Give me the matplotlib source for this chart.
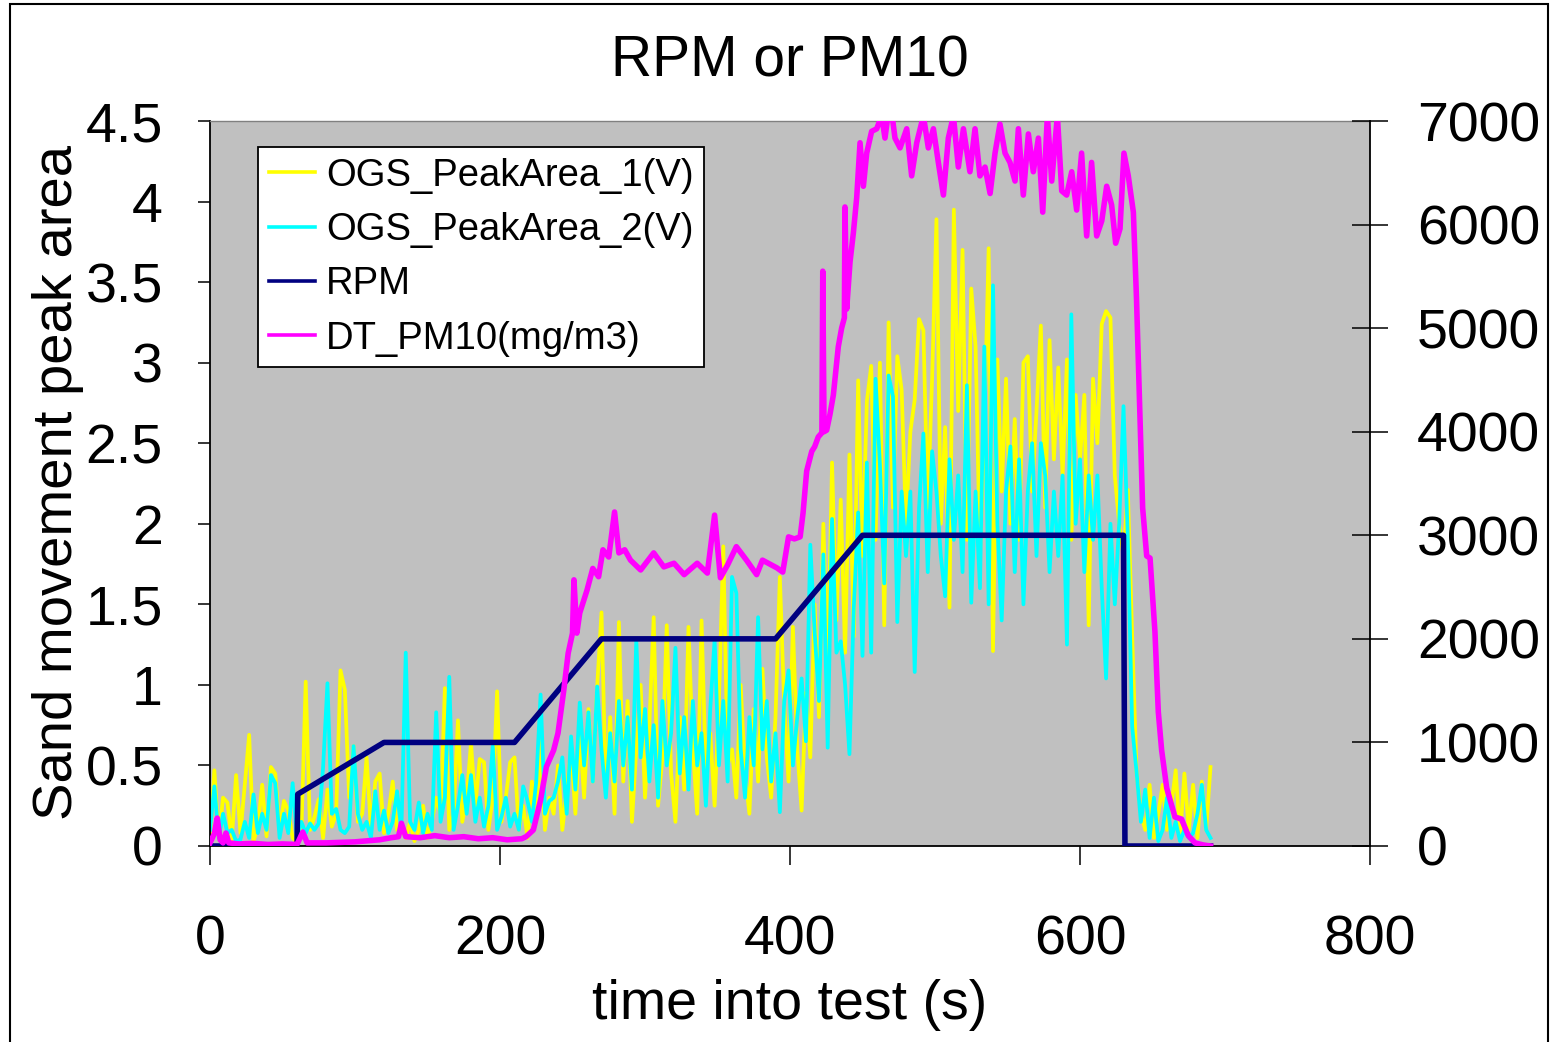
import numpy as np
import matplotlib
matplotlib.use("Agg")
import matplotlib.pyplot as plt
from matplotlib.patches import Rectangle
from matplotlib.ticker import FormatStrFormatter

plt.rcParams['font.family'] = ['Liberation Sans', 'DejaVu Sans']

# OGS peak areas, every 3 s
t_ogs = np.arange(0, 691, 3)
ogs1 = [0.05, 0.47, 0.05, 0.30, 0.27, 0.04, 0.44, 0.08, 0.38, 0.69,
        0.03, 0.12, 0.38, 0.06, 0.49, 0.45, 0.10, 0.28, 0.22, 0.05,
        0.02, 0.08, 1.02, 0.10, 0.18, 0.29, 0.05, 0.35, 0.12, 0.20,
        1.09, 0.97, 0.30, 0.62, 0.15, 0.20, 0.55, 0.10, 0.40, 0.45,
        0.08, 0.20, 0.40, 0.10, 0.12, 0.05, 0.15, 0.03, 0.10, 0.25,
        0.05, 0.15, 0.30, 0.20, 0.98, 0.10, 0.20, 0.78, 0.15, 0.30,
        0.64, 0.25, 0.54, 0.52, 0.10, 0.30, 0.96, 0.15, 0.30, 0.52,
        0.55, 0.10, 0.25, 0.05, 0.40, 0.15, 0.66, 0.10, 0.30, 0.20,
        0.50, 0.10, 0.35, 0.60, 0.20, 0.70, 0.30, 0.85, 0.40, 0.99,
        1.45, 0.35, 0.80, 0.20, 1.39, 0.40, 0.90, 0.15, 0.60, 1.00,
        0.30, 0.75, 1.42, 0.25, 0.55, 1.37, 0.45, 0.15, 0.80, 0.35,
        1.36, 0.60, 0.20, 1.40, 0.45, 0.70, 0.25, 0.90, 1.86, 0.50,
        0.60, 0.30, 1.00, 0.45, 0.20, 0.85, 0.40, 1.10, 0.55, 0.30,
        0.80, 1.67, 0.88, 0.40, 1.36, 0.60, 0.22, 0.95, 0.55, 1.50,
        0.80, 2.00, 1.10, 2.38, 1.40, 2.15, 1.20, 2.43, 1.30, 2.89,
        1.80, 2.76, 2.98, 1.90, 3.00, 1.37, 3.25, 2.10, 3.04, 2.83,
        2.00, 2.57, 2.77, 3.27, 3.20, 2.10, 2.90, 3.89, 2.00, 2.60,
        1.48, 3.95, 2.70, 3.70, 1.90, 3.46, 3.10, 1.80, 2.60, 3.71,
        1.21, 3.02, 2.20, 2.90, 2.00, 2.65, 1.90, 3.00, 3.04, 2.20,
        2.70, 3.23, 2.10, 3.14, 2.40, 2.97, 2.30, 3.02, 1.90, 2.80,
        2.40, 2.80, 1.37, 2.90, 2.50, 3.24, 3.32, 3.28, 2.30, 2.00,
        1.80, 2.21, 1.30, 0.46, 0.20, 0.10, 0.38, 0.05, 0.20, 0.38,
        0.10, 0.25, 0.47, 0.05, 0.45, 0.10, 0.38, 0.05, 0.40, 0.10,
        0.49]
ogs2 = [0.10, 0.37, 0.05, 0.20, 0.08, 0.10, 0.03, 0.04, 0.15, 0.05,
        0.32, 0.08, 0.20, 0.10, 0.44, 0.39, 0.05, 0.20, 0.08, 0.39,
        0.05, 0.15, 0.08, 0.14, 0.10, 0.14, 0.49, 1.01, 0.20, 0.23,
        0.10, 0.08, 0.12, 0.62, 0.20, 0.10, 0.15, 0.05, 0.34, 0.10,
        0.22, 0.08, 0.15, 0.34, 0.10, 1.20, 0.15, 0.10, 0.27, 0.08,
        0.20, 0.10, 0.83, 0.15, 0.30, 1.05, 0.10, 0.25, 0.44, 0.20,
        0.44, 0.15, 0.30, 0.12, 0.25, 0.62, 0.10, 0.18, 0.30, 0.12,
        0.20, 0.10, 0.37, 0.28, 0.15, 0.40, 0.94, 0.20, 0.28, 0.30,
        0.40, 0.55, 0.20, 0.68, 0.35, 0.89, 0.50, 0.83, 0.40, 0.99,
        0.60, 0.30, 0.70, 0.40, 0.90, 0.50, 0.80, 0.35, 1.28, 0.55,
        0.85, 0.40, 0.75, 0.30, 0.90, 0.50, 0.70, 1.23, 0.45, 0.80,
        0.35, 0.90, 0.50, 0.70, 0.25, 0.85, 1.28, 0.50, 0.90, 0.40,
        1.67, 1.57, 0.60, 0.30, 0.80, 0.50, 1.42, 0.60, 0.90, 0.40,
        0.70, 0.21, 0.90, 1.09, 0.50, 0.80, 1.04, 0.65, 1.87, 1.33,
        0.90, 1.81, 0.61, 2.03, 1.20, 1.27, 1.00, 0.57, 1.48, 2.07,
        1.18, 2.38, 1.20, 2.90, 2.37, 1.63, 2.92, 2.79, 1.39, 2.20,
        1.80, 2.20, 1.08, 2.10, 2.56, 1.70, 2.45, 2.20, 1.80, 1.55,
        2.40, 1.90, 2.30, 1.70, 2.86, 1.51, 2.20, 1.60, 3.10, 1.50,
        3.48, 2.00, 1.40, 2.20, 2.48, 1.70, 2.40, 1.50, 2.20, 2.50,
        1.80, 2.50, 2.30, 1.70, 2.20, 1.80, 2.30, 1.25, 3.30, 2.00,
        2.40, 1.70, 2.30, 1.90, 2.30, 1.60, 1.04, 2.00, 1.50, 2.00,
        2.73, 1.90, 0.74, 0.46, 0.15, 0.35, 0.05, 0.30, 0.03, 0.10,
        0.30, 0.05, 0.15, 0.03, 0.10, 0.05, 0.08, 0.20, 0.38, 0.10,
        0.05]

# drum speed set points
rpm_t = [0, 60, 60.5, 120, 210, 270, 390, 450, 630, 631, 690]
rpm = [0, 0, 500, 1000, 1000, 2000, 2000, 3000, 3000, 0, 0]

# DustTrak PM10
pm_t = [0, 3, 5, 7, 9, 11, 13, 20, 30, 40, 50, 60, 64, 67, 80, 100, 117, 125,
        130, 132, 135, 145, 155, 165, 175, 185, 195, 205, 215, 218, 223, 228,
        232, 237, 240, 244, 247, 250, 251, 253, 255, 260, 264, 268, 271, 275,
        279, 282, 286, 290, 297, 306, 313, 320, 327, 336, 343, 348, 352, 357,
        363, 370, 377, 381, 391, 395, 399, 403, 407, 409, 411.5, 415, 417,
        419.5, 422, 422.6, 423.5, 425.3, 427.6, 429.9, 433.3, 435.6, 437.5,
        437.9, 439.1, 441.4, 443.7, 446, 448.3, 450.6, 452.9, 456.3, 459.8,
        463.2, 465.5, 468, 470, 472.4, 475.9, 480.5, 483.9, 487.4, 492, 495.4,
        498.9, 502.3, 505.8, 509.2, 512.7, 516.1, 519.6, 524.1, 527.6, 531,
        534.5, 538, 541.4, 544.8, 548.3, 551.7, 555.2, 557.5, 560.9, 564.4,
        567.8, 571.3, 574.3, 577.5, 580.5, 584.4, 587.4, 590.8, 594.3, 597.7,
        601.1, 604.6, 608, 611.5, 615, 618.4, 621.8, 624.6, 627.6, 630.3,
        633.3, 636.8, 639, 641.4, 643.2, 646, 648.3, 651.7, 654, 656.3, 659.8,
        665.5, 670, 674.7, 679.3, 685, 690]
pm10 = [30, 120, 270, 60, 30, 125, 30, 20, 25, 15, 20, 15, 135, 30, 30, 40, 60, 80,
        90, 220, 90, 80, 100, 80, 90, 70, 80, 60, 70, 90, 155, 445,
        765, 925, 1090, 1505, 1860, 2055, 2570, 2055, 2250, 2470, 2680, 2600, 2860, 2790,
        3225, 2830, 2860, 2760, 2665, 2830, 2695, 2730, 2620, 2730, 2635, 3195, 2590, 2715,
        2890, 2760, 2620, 2760, 2685, 2645, 2985, 2965, 2985, 3215, 3620, 3810, 3855,
        3950, 3990, 5550, 4000, 4015, 4170, 4355, 4820, 5000, 5100,
        6170, 5185, 5640, 5920, 6260, 6790, 6370, 6690, 6900, 6925,
        7050, 6835, 7100, 7100, 6835, 6740, 6925, 6470, 6790, 7050, 6740,
        6925, 6600, 6285, 6835, 7050, 6555, 6925, 6510, 6925, 6470,
        6555, 6300, 6690, 6970, 6690, 6600, 6420, 6925, 6285, 6875,
        6510, 6835, 6120, 7050, 6420, 7050, 6325, 6285, 6510, 6140,
        6690, 5890, 6600, 5890, 6035, 6370, 6190, 5820, 5960, 6690,
        6470, 6120, 5270, 4130, 3265, 2800, 2780, 2065, 1295, 925, 560,
        280, 260, 100, 30, 10, 0]

fig = plt.figure(figsize=(15.53, 10.42), dpi=100)
ax = fig.add_axes([210 / 1553, 1 - 846 / 1042, 1160 / 1553, 725 / 1042])
ax2 = ax.twinx()
ax.set_facecolor('#C0C0C0')

l1, = ax.plot(t_ogs, ogs1, color='#FFFF00', lw=2.7, label='OGS_PeakArea_1(V)')
l2, = ax.plot(t_ogs, ogs2, color='#00FFFF', lw=2.7, label='OGS_PeakArea_2(V)')
l3, = ax2.plot(rpm_t, rpm, color='#000080', lw=4.0, label='RPM')
l4, = ax2.plot(pm_t, pm10, color='#FF00FF', lw=4.0, label='DT_PM10(mg/m3)')

ax.set_xlim(0, 800)
ax.set_ylim(0, 4.5)
ax2.set_ylim(0, 7000)
ax.set_xticks(range(0, 801, 200))
ax.set_yticks(np.arange(0, 4.51, 0.5))
ax.yaxis.set_major_formatter(FormatStrFormatter('%g'))
ax2.set_yticks(range(0, 7001, 1000))

ax.tick_params(axis='x', direction='out', length=14, width=1.1, pad=35, labelsize=40)
ax.tick_params(axis='y', direction='out', length=9, width=1.1, pad=25, labelsize=40)
ax2.tick_params(axis='y', direction='inout', length=26, width=1.1, pad=21, labelsize=40)

for s in ['left', 'bottom']:
    ax.spines[s].set_linewidth(1.3)
    ax.spines[s].set_color('black')
ax.spines['top'].set_color('#808080')
ax.spines['top'].set_linewidth(1.0)
ax.spines['right'].set_visible(False)
ax2.spines['top'].set_visible(False)
ax2.spines['left'].set_visible(False)
ax2.spines['bottom'].set_visible(False)
ax2.spines['right'].set_linewidth(1.3)

ax.set_title('RPM or PM10', fontsize=41, pad=32)
ax.set_xlabel('time into test (s)', fontsize=40, va='center')
ax.xaxis.set_label_coords(0.5, -0.219)
ax.set_ylabel('Sand movement peak area', fontsize=40.5, va='center')
ax.yaxis.set_label_coords(-0.131, 0.501)

leg = ax2.legend(handles=[l1, l2, l3, l4], loc='upper left',
                 bbox_to_anchor=(48 / 1160, (846 - 147) / 725), borderaxespad=0,
                 fontsize=27.5, fancybox=False, framealpha=1, edgecolor='black',
                 handlelength=1.2, handletextpad=0.3, labelspacing=0.48,
                 borderpad=0.28)
leg.get_frame().set_linewidth(1.3)
for h in leg.get_lines():
    h.set_linewidth(2.6)

fig.patches.append(Rectangle((10 / 1553, -0.01), 1538 / 1553, 1.0062,
                             transform=fig.transFigure, fill=False,
                             edgecolor='black', lw=1.5))

fig.savefig('out.png', dpi=100)
